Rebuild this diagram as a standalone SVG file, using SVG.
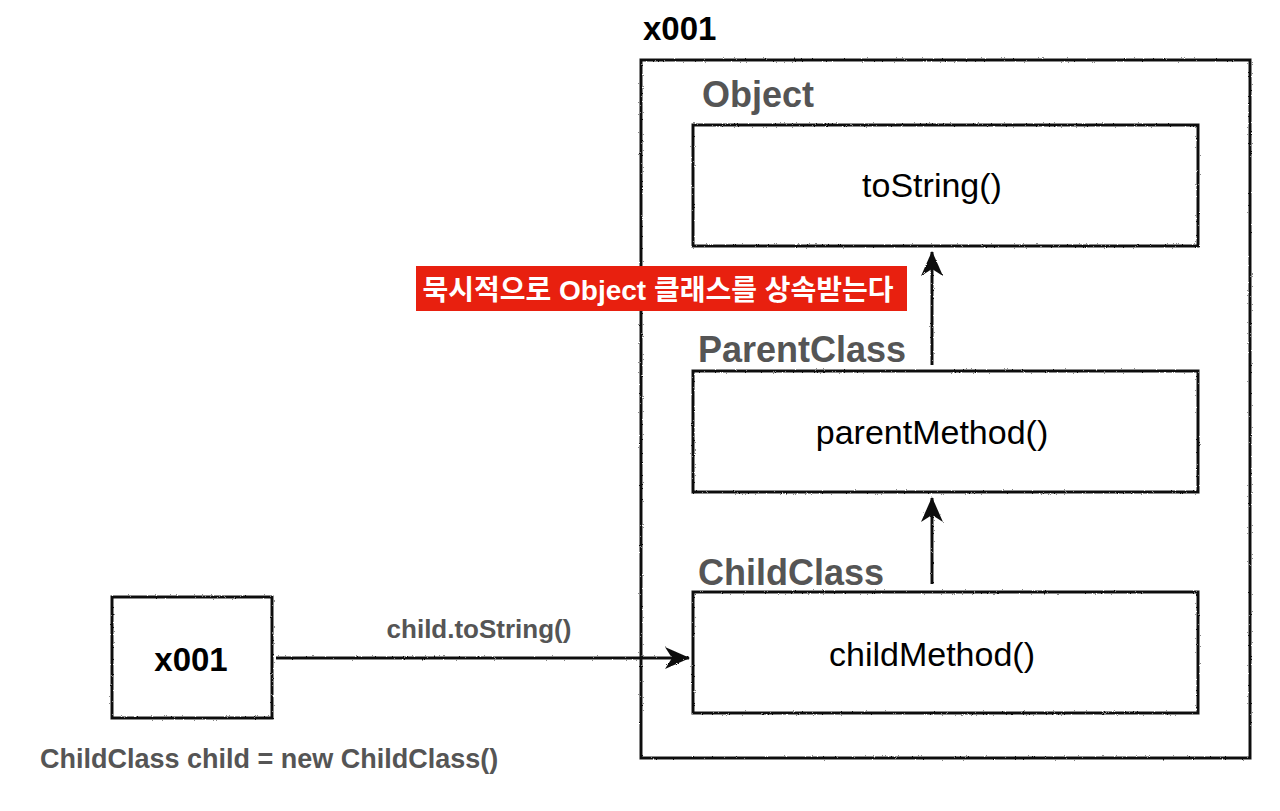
<svg xmlns="http://www.w3.org/2000/svg" width="1280" height="811" viewBox="0 0 1280 811">
<style>
.box{fill:none;stroke:#111;stroke-width:3;filter:url(#rough)}
.lbl{font-family:"Liberation Sans",Arial,sans-serif;font-weight:bold;fill:#555}
.blk{font-family:"Liberation Sans",Arial,sans-serif;font-weight:bold;fill:#000}
.m{font-family:"Liberation Sans",Arial,sans-serif;font-size:34px;fill:#000;text-anchor:middle}
.con{fill:none;stroke:#111;stroke-width:3}
</style>
<defs>
<filter id="rough" x="0" y="0" width="1280" height="811" filterUnits="userSpaceOnUse">
<feTurbulence type="fractalNoise" baseFrequency="0.9" numOctaves="2" seed="3" result="n"/>
<feDisplacementMap in="SourceGraphic" in2="n" scale="2.2"/>
</filter>
<marker id="ah" viewBox="0 0 26 24" refX="24" refY="12" markerWidth="26" markerHeight="24" markerUnits="userSpaceOnUse" orient="auto">
<path d="M0,1 L25,12 L0,23 L7,12 Z" fill="#111"/>
</marker>
</defs>
<rect width="1280" height="811" fill="#fff"/>
<g id="memory">
<text class="blk" x="643" y="40" font-size="33">x001</text>
<rect class="box" x="641" y="60" width="609" height="698"/>
</g>
<g id="object">
<text class="lbl" x="702" y="107" font-size="36">Object</text>
<rect class="box" x="693" y="125" width="505" height="121"/>
<text class="m" x="932" y="197">toString()</text>
</g>
<g id="parent">
<text class="lbl" x="698" y="362" font-size="36">ParentClass</text>
<rect class="box" x="693" y="371" width="505" height="121"/>
<text class="m" x="932" y="444">parentMethod()</text>
</g>
<g id="child">
<text class="lbl" x="698" y="585" font-size="36">ChildClass</text>
<rect class="box" x="693" y="592" width="505" height="121"/>
<text class="m" x="932" y="666">childMethod()</text>
</g>
<g id="ref">
<rect class="box" x="112" y="597" width="160" height="121"/>
<text class="blk" x="191" y="671" font-size="33" text-anchor="middle">x001</text>
<text class="lbl" x="40" y="768" font-size="27">ChildClass child = new ChildClass()</text>
</g>
<g id="note">
<rect x="416" y="266" width="491" height="45" fill="#e8200f"/>
<text x="658" y="300" font-size="28" font-weight="bold" fill="#fff" text-anchor="middle" font-family="'Liberation Sans','Noto Sans CJK KR',sans-serif">묵시적으로 Object 클래스를 상속받는다</text>
</g>
<g id="connectors" filter="url(#rough)">
<line class="con" x1="276" y1="658" x2="689" y2="658" marker-end="url(#ah)"/>
<line class="con" x1="932" y1="365" x2="932" y2="252" marker-end="url(#ah)"/>
<line class="con" x1="932" y1="584" x2="932" y2="498" marker-end="url(#ah)"/>
</g>
<text class="lbl" x="479" y="638" font-size="26" text-anchor="middle">child.toString()</text>
</svg>
